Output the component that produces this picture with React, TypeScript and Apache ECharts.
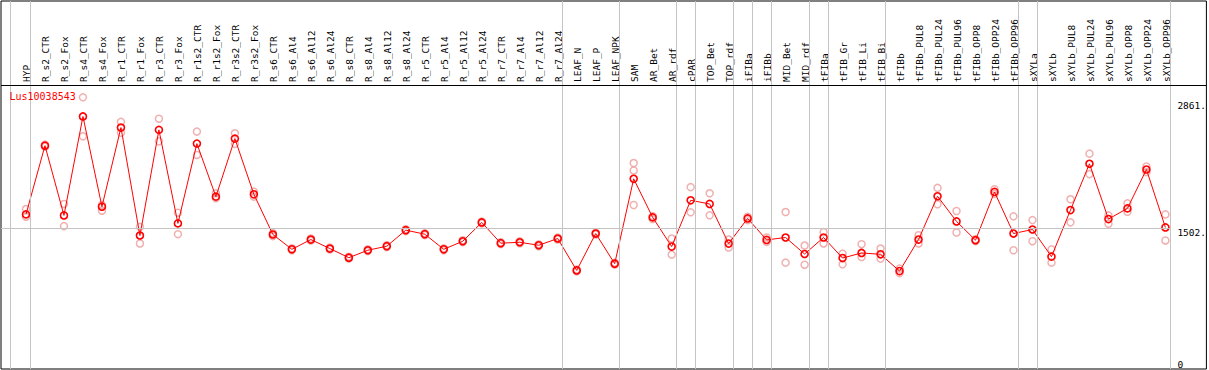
import React, { useEffect, useRef } from "react";
import * as echarts from "echarts";

const chartTitle = "Lus10038543";

const categories = [
  "HYP", "R_s2_CTR", "R_s2_Fox", "R_s4_CTR", "R_s4_Fox", "R_r1_CTR", "R_r1_Fox", "R_r3_CTR", "R_r3_Fox",
  "R_r1s2_CTR", "R_r1s2_Fox", "R_r3s2_CTR", "R_r3s2_Fox", "R_s6_CTR", "R_s6_Al4", "R_s6_Al12", "R_s6_Al24",
  "R_s8_CTR", "R_s8_Al4", "R_s8_Al12", "R_s8_Al24", "R_r5_CTR", "R_r5_Al4", "R_r5_Al12", "R_r5_Al24",
  "R_r7_CTR", "R_r7_Al4", "R_r7_Al12", "R_r7_Al24", "LEAF_N", "LEAF_P", "LEAF_NPK", "SAM", "AR_Bet", "AR_rdf",
  "cPAR", "TOP_Bet", "TOP_rdf", "iFIBa", "iFIBb", "MID_Bet", "MID_rdf", "tFIBa", "tFIB_Gr", "tFIB_Li", "tFIB_Bi",
  "tFIBb", "tFIBb_PUL8", "tFIBb_PUL24", "tFIBb_PUL96", "tFIBb_OPP8", "tFIBb_OPP24", "tFIBb_OPP96", "sXYLa",
  "sXYLb", "sXYLb_PUL8", "sXYLb_PUL24", "sXYLb_PUL96", "sXYLb_OPP8", "sXYLb_OPP24", "sXYLb_OPP96",
];

const means = [
  1647, 2379, 1636, 2690, 1729, 2572, 1422, 2547, 1551, 2401, 1836, 2454, 1861, 1433, 1275, 1379, 1283,
  1186, 1265, 1308, 1479, 1436, 1275, 1361, 1561, 1340, 1350, 1318, 1390, 1050, 1443, 1122, 2026, 1615, 1304,
  1797, 1758, 1336, 1604, 1375, 1401, 1225, 1401, 1182, 1236, 1222, 1043, 1379, 1840, 1572, 1372, 1886, 1443,
  1486, 1197, 1693, 2186, 1597, 1711, 2125, 1508,
];

const replicates = [
  [1704, 1622], [2390, 2369], [1758, 1522], [2894, 2479], [1747, 1686], [2633, 2516], [1514, 1337],
  [2666, 2425], [1665, 1436], [2529, 2280], [1872, 1819], [2511, 2398], [1890, 1836], [1447, 1415],
  [1286, 1265], [1390, 1368], [1293, 1273], [1196, 1176], [1275, 1255], [1318, 1298], [1489, 1469],
  [1446, 1426], [1285, 1265], [1371, 1351], [1571, 1551], [1350, 1330], [1360, 1340], [1328, 1308],
  [1400, 1380], [1060, 1040], [1453, 1433], [1132, 1112], [2194, 2115, 1747], [1629, 1597], [1390, 1219],
  [1937, 1669], [1872, 1637], [1379, 1294], [1622, 1586], [1401, 1354], [1672, 1133], [1315, 1111],
  [1458, 1337], [1229, 1115], [1329, 1193], [1283, 1176], [1069, 1021], [1425, 1337], [1929, 1755],
  [1683, 1454], [1382, 1362], [1915, 1865], [1626, 1265], [1586, 1361], [1275, 1133], [1808, 1562],
  [2294, 2076], [1637, 1547], [1765, 1675], [2157, 2097], [1647, 1369],
];

// indices of categories after which a group separator is drawn
const separatorsAfter = [0, 28, 31, 34, 35, 37, 38, 39, 41, 42, 45, 52, 53, 60];

const yTickValues = [2861, 1502];
const yZeroTick = [0];
const gridValue = 1502;

const FONT = "DejaVu Sans Mono";

export default function App() {
  const ref = useRef<HTMLDivElement>(null);

  useEffect(() => {
    if (!ref.current) return;
    const chart = echarts.init(ref.current, undefined, { renderer: "svg" });

    const step = 19;
    const gridLeft = 1;
    const gridRight = 2;
    const plotWidth = 1209 - gridLeft - gridRight;
    const firstX = 26;
    const xMin = -(firstX - gridLeft) / step;
    const xMax = xMin + plotWidth / step;
    const gridTop = 1;
    const gridBottom = 1;
    const plotHeight = 370 - gridTop - gridBottom;
    const yMax = 3920;
    const headerY = 85;
    const headerValue = (yMax * (370 - gridBottom - headerY)) / plotHeight;
    const sepOffset = 0.24;
    const leftEdge = -0.842;

    const grey = "#c4c4c4";

    const repData: number[][] = [];
    replicates.forEach((reps, i) => reps.forEach((v) => repData.push([i, v])));

    const markData: any[] = [
      { xAxis: leftEdge, lineStyle: { color: grey, width: 1, type: "solid" } },
      ...separatorsAfter.map((i) => ({
        xAxis: i + sepOffset,
        lineStyle: { color: grey, width: 1, type: "solid" },
      })),
      [
        { coord: [xMin, gridValue], lineStyle: { color: grey, width: 1, type: "solid" } },
        { coord: [separatorsAfter[separatorsAfter.length - 1] + sepOffset, gridValue] },
      ],
      { yAxis: headerValue, lineStyle: { color: "#000", width: 1, type: "solid" } },
    ];

    const labelStyle = { fontFamily: FONT, fontSize: 9.5, color: "#000" };

    chart.setOption({
      animation: false,
      backgroundColor: "#fff",
      title: {
        text: chartTitle,
        left: 9.5,
        top: 91,
        padding: 0,
        textStyle: { color: "#ff0000", fontFamily: FONT, fontSize: 10, fontWeight: "normal" },
      },
      grid: [
        {
          left: gridLeft,
          right: gridRight,
          top: gridTop,
          bottom: gridBottom,
          show: true,
          borderColor: "#000",
          borderWidth: 1,
          backgroundColor: "transparent",
        },
        {
          left: firstX - step / 2,
          right: 1209 - (firstX - step / 2 + categories.length * step),
          top: headerY,
          height: 1,
        },
      ],
      xAxis: [
        { gridIndex: 0, type: "value", min: xMin, max: xMax, show: false },
        {
          gridIndex: 1,
          type: "category",
          data: categories,
          position: "top",
          boundaryGap: true,
          axisLine: { show: false },
          axisTick: { show: false },
          splitLine: { show: false },
          axisLabel: { ...labelStyle, rotate: 90, interval: 0, margin: 3 },
        },
      ],
      yAxis: [
        {
          gridIndex: 0,
          type: "value",
          min: 0,
          max: yMax,
          position: "right",
          offset: -30,
          axisLine: { show: false },
          axisTick: { show: false },
          splitLine: { show: false },
          axisLabel: {
            ...labelStyle,
            customValues: yTickValues,
            formatter: (v: number) => `${v}.`,
            verticalAlign: "top",
            margin: 1,
          },
        },
        {
          gridIndex: 0,
          type: "value",
          min: 0,
          max: yMax,
          position: "right",
          offset: -30,
          axisLine: { show: false },
          axisTick: { show: false },
          splitLine: { show: false },
          axisLabel: {
            ...labelStyle,
            customValues: yZeroTick,
            formatter: (v: number) => `${v}`,
            verticalAlign: "bottom",
            margin: 1,
          },
        },
        { gridIndex: 1, type: "value", show: false },
      ],
      series: [
        {
          type: "scatter",
          xAxisIndex: 0,
          yAxisIndex: 0,
          data: repData,
          symbol: "circle",
          symbolSize: 7,
          itemStyle: { color: "rgba(0,0,0,0)", borderColor: "#ec9c9c", borderWidth: 1.5 },
          silent: true,
          markLine: {
            silent: true,
            symbol: "none",
            label: { show: false },
            emphasis: { disabled: true },
            data: markData,
          },
        },
        {
          type: "line",
          xAxisIndex: 0,
          yAxisIndex: 0,
          data: means.map((v, i) => [i, v]),
          symbol: "circle",
          symbolSize: 7,
          showAllSymbol: true,
          lineStyle: { color: "#ff0000", width: 1 },
          itemStyle: { color: "rgba(0,0,0,0)", borderColor: "#ff0000", borderWidth: 1.6 },
          silent: true,
          z: 3,
        },
      ],
    });

    return () => chart.dispose();
  }, []);

  return (
    <div
      ref={ref}
      style={{ position: "fixed", left: 0, top: 0, width: 1209, height: 370 }}
    />
  );
}
